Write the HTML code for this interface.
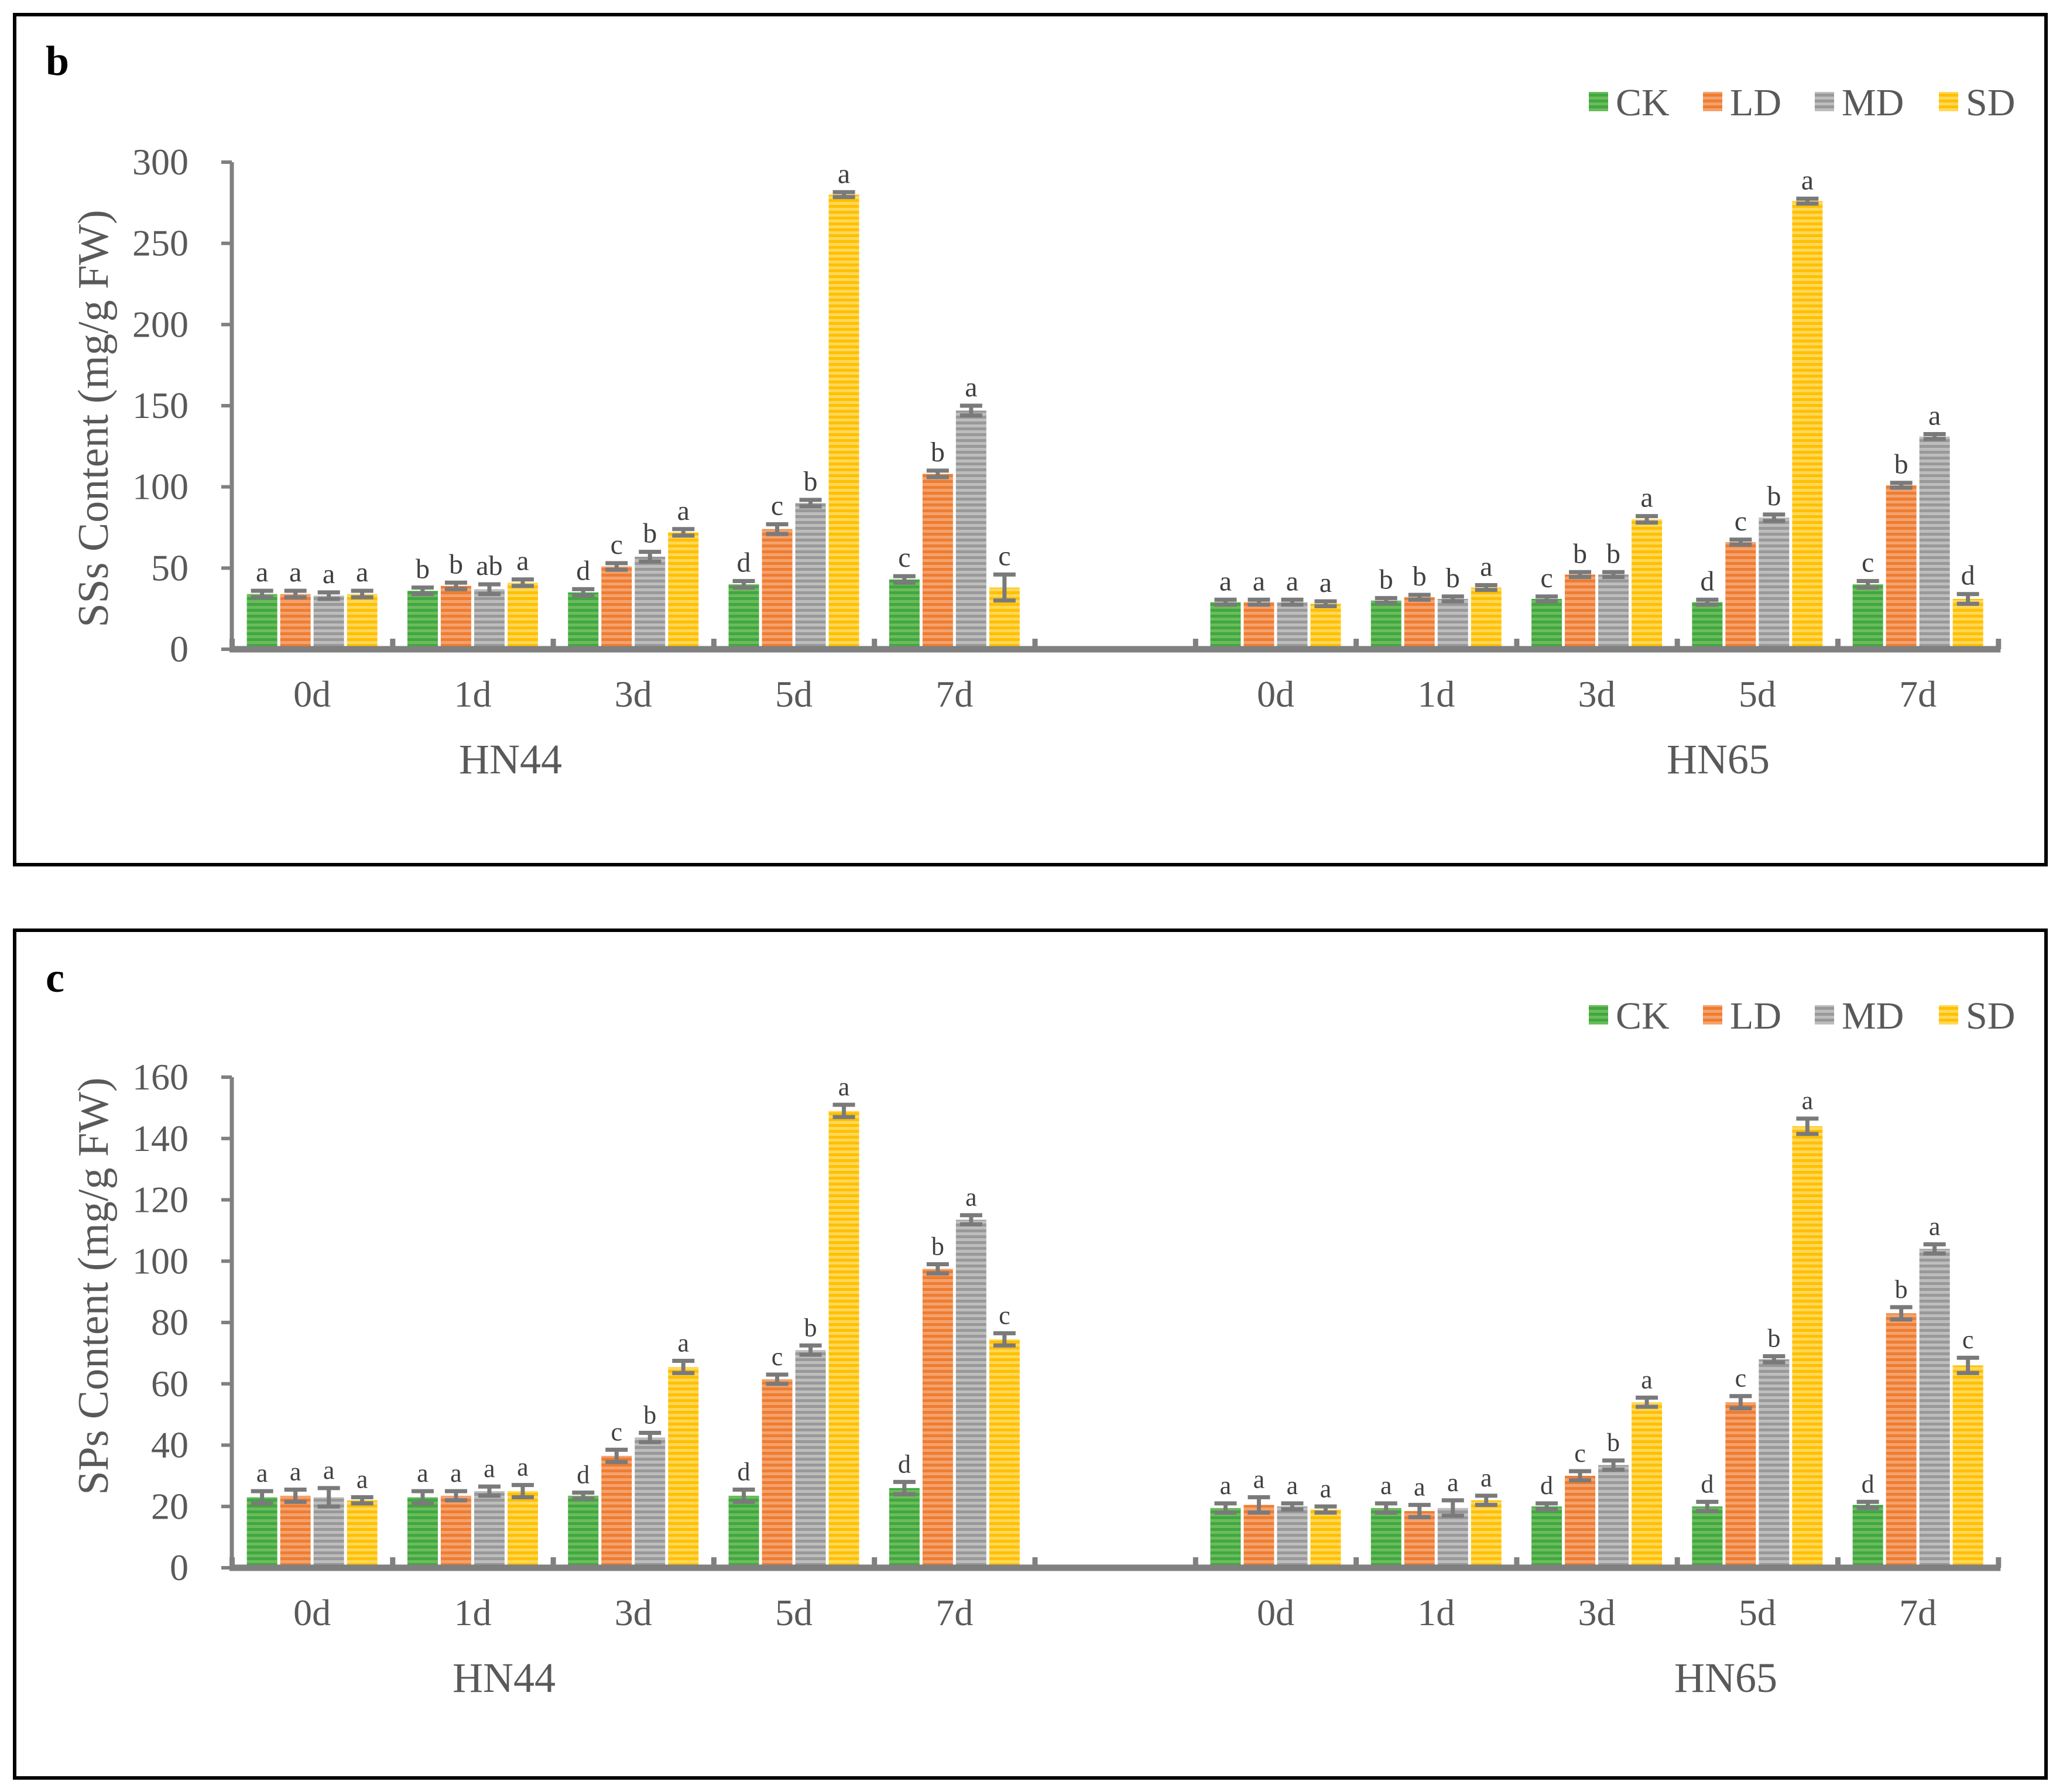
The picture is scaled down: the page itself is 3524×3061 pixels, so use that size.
<!DOCTYPE html>
<html><head><meta charset="utf-8">
<style>
html,body{margin:0;padding:0;background:#fff;}
svg{display:block;}
text{font-family:"Liberation Serif",serif;}
</style></head>
<body>
<svg id="chart" width="3524" height="3061" viewBox="0 0 3524 3061" xmlns="http://www.w3.org/2000/svg">
<defs>
<pattern id="p0" width="10" height="10" patternUnits="userSpaceOnUse"><rect width="10" height="10" fill="#3fa843"/><rect y="5" width="10" height="5" fill="#6dbb5a"/></pattern>
<pattern id="p1" width="10" height="10" patternUnits="userSpaceOnUse"><rect width="10" height="10" fill="#ee7d31"/><rect y="5" width="10" height="5" fill="#f4a26e"/></pattern>
<pattern id="p2" width="10" height="10" patternUnits="userSpaceOnUse"><rect width="10" height="10" fill="#999999"/><rect y="5" width="10" height="5" fill="#bdbdbd"/></pattern>
<pattern id="p3" width="10" height="10" patternUnits="userSpaceOnUse"><rect width="10" height="10" fill="#ffc000"/><rect y="5" width="10" height="5" fill="#ffd85a"/></pattern>
</defs>
<rect x="25" y="25" width="3470" height="1452" fill="none" stroke="#000" stroke-width="6"/>
<rect x="25" y="1589" width="3470" height="1448" fill="none" stroke="#000" stroke-width="6"/>
<text x="78" y="128" font-size="72" font-weight="bold" fill="#000">b</text>
<text x="78" y="1694" font-size="72" font-weight="bold" fill="#000">c</text>
<g id="plots"></g>
</svg>
<script>
const series = ['CK','LD','MD','SD'];
const slots = ['0d','1d','3d','5d','7d','','0d','1d','3d','5d','7d'];
// Panel b: SSs
const ssCK = [34,36,35,40,43,null,29,30,31,29,40];
const ssLD = [34,39,51,74,108,null,29,32,46,66,101];
const ssMD = [33,37,57,90,147,null,29,31,46,81,131];
const ssSD = [34,41,72,280,38,null,28,38,80,276,31];
const ssErrCK = [2,2,2,2,2,0,1.5,1.5,1.5,1.5,2];
const ssErrLD = [2,2,2,3,2,0,1.5,1.5,1.5,1.5,1.5];
const ssErrMD = [2,3,3,2,3,0,1.5,1.5,1.5,2,1.5];
const ssErrSD = [2,2,2,1.5,8,0,1.5,1.5,2,1.5,3];
const ssLetCK = ['a','b','d','d','c','','a','b','c','d','c'];
const ssLetLD = ['a','b','c','c','b','','a','b','b','c','b'];
const ssLetMD = ['a','ab','b','b','a','','a','b','b','b','a'];
const ssLetSD = ['a','a','a','a','c','','a','a','a','a','d'];
const ssTicks = [0,50,100,150,200,250,300];
// Panel c: SPs
const spCK = [23,23,23.5,23.5,26,null,19.5,19.5,20,20,20.5];
const spLD = [23.5,23.5,36.5,61.5,97.5,null,20.5,18.5,30,54,83];
const spMD = [23,25,42.5,71,113.5,null,20,19.5,33.5,68,104];
const spSD = [22,25,65.5,149,74.5,null,19,22,54,144,66];
const spErrCK = [2,2,1,2,2,0,1.5,1.5,1,1.5,1];
const spErrLD = [2,1.5,2,1.5,1.5,0,2.5,2,1.5,2,2];
const spErrMD = [3,1.5,1.5,1.5,1.5,0,1,2.5,1.5,1,1.5];
const spErrSD = [1,2,2,2,2,0,1,1.5,1.5,2.5,2.5];
const spLetCK = ['a','a','d','d','d','','a','a','d','d','d'];
const spLetLD = ['a','a','c','c','b','','a','a','c','c','b'];
const spLetMD = ['a','a','b','b','a','','a','a','b','b','a'];
const spLetSD = ['a','a','a','a','c','','a','a','a','a','c'];
const spTicks = [0,20,40,60,80,100,120,140,160];

const NS='http://www.w3.org/2000/svg';
const root=document.getElementById('plots');
function mk(tag,attrs,parent){const e=document.createElementNS(NS,tag);for(const k in attrs)e.setAttribute(k,attrs[k]);(parent||root).appendChild(e);return e;}

function panel(cfg){
  const g=mk('g',{});
  
  
  const x0=396, slotW=274.3, y0=cfg.y0, yTop=cfg.yTop, vmax=cfg.ticks[cfg.ticks.length-1];
  const yS=v=>y0-(v/vmax)*(y0-yTop);
  const slotC=i=>x0+slotW*(i+0.5);
  // y ticks
  cfg.ticks.forEach(t=>{
    const l=mk('line',{x1:378,x2:x0,y1:yS(t),y2:yS(t),stroke:'#808080','stroke-width':6},g);
    
    
    const tx=mk('text',{x:322,y:yS(t)+21,'font-size':64,fill:'#595959','text-anchor':'end'},g);
    tx.textContent=t;
    
    
  });
  const ya=mk('line',{x1:x0,x2:x0,y1:yTop,y2:y0,stroke:'#808080','stroke-width':7},g);
  
  
  // slot separators
  for(let k=0;k<=slots.length;k++){
    const r=mk('rect',{x:x0+slotW*k-4,y:y0-18,width:9,height:18,fill:'#808080'},g);
    
    
  }
  // bars
  const pitch=57,bw=52;
  for(let s=0;s<4;s++){
    const vals=cfg.vals[s],errs=cfg.errs[s],lets=cfg.lets[s];
    for(let i=0;i<slots.length;i++){
      if(vals[i]==null)continue;
      const bx=slotC(i)-111.5+s*pitch, top=yS(vals[i]);
      const b=mk('rect',{x:bx,y:top,width:bw,height:y0-5-top,fill:'url(#p'+s+')'},g);
      
      
      const cx=bx+bw/2, eh=yS(vals[i]+errs[i]), el=yS(vals[i]-errs[i]);
      const eg=mk('g',{stroke:'#7a7a7a','stroke-width':7},g);
      
      
      mk('line',{x1:cx,x2:cx,y1:eh,y2:el},eg);
      mk('line',{x1:cx-19,x2:cx+19,y1:eh,y2:eh},eg);
      mk('line',{x1:cx-19,x2:cx+19,y1:el,y2:el},eg);
      const lt=mk('text',{x:cx,y:eh-16,'font-size':cfg.letSize,fill:'#404040','text-anchor':'middle'},g);
      lt.textContent=lets[i];
      
      
    }
  }
  const xa=mk('line',{x1:x0-4,x2:x0+slotW*slots.length+4,y1:y0,y2:y0,stroke:'#808080','stroke-width':11},g);
  
  
  slots.forEach((c,i)=>{
    if(!c)return;
    const t=mk('text',{x:slotC(i),y:y0+98,'font-size':64,fill:'#595959','text-anchor':'middle'},g);
    t.textContent=c;
    
    
  });
  cfg.groups.forEach(gr=>{
    const t=mk('text',{x:gr[1],y:y0+cfg.grpDy,'font-size':72,fill:'#595959','text-anchor':'middle'},g);
    t.textContent=gr[0];
    
    
  });
  const yt=mk('text',{x:0,y:0,'font-size':74,fill:'#595959','text-anchor':'middle',transform:'translate(184,'+cfg.titleY+') rotate(-90)'},g);
  yt.textContent=cfg.title;
  
  
  // legend
  const lx=[2714,2909,3100,3312];
  const cols=['#4fae47','#ee7d31','#a5a5a5','#ffc000'];
  series.forEach((s,i)=>{
    const lg=mk('g',{},g);
    
    
    mk('rect',{x:lx[i],y:cfg.legY-17,width:33,height:33,fill:'url(#p'+i+')'},lg);
    const t=mk('text',{x:lx[i]+46,y:cfg.legY+23,'font-size':66,fill:'#595959'},lg);
    t.textContent=s;
  });
}
panel({id:'sss',y0:1109,yTop:277,ticks:ssTicks,vals:[ssCK,ssLD,ssMD,ssSD],errs:[ssErrCK,ssErrLD,ssErrMD,ssErrSD],lets:[ssLetCK,ssLetLD,ssLetMD,ssLetSD],letSize:48,groups:[['HN44',872],['HN65',2935]],grpDy:212,title:'SSs Content (mg/g FW)',titleY:715,legY:174});
panel({id:'sps',y0:2678,yTop:1840,ticks:spTicks,vals:[spCK,spLD,spMD,spSD],errs:[spErrCK,spErrLD,spErrMD,spErrSD],lets:[spLetCK,spLetLD,spLetMD,spLetSD],letSize:44,groups:[['HN44',861],['HN65',2948]],grpDy:212,title:'SPs Content (mg/g FW)',titleY:2197,legY:1734});
</script>
</body></html>
